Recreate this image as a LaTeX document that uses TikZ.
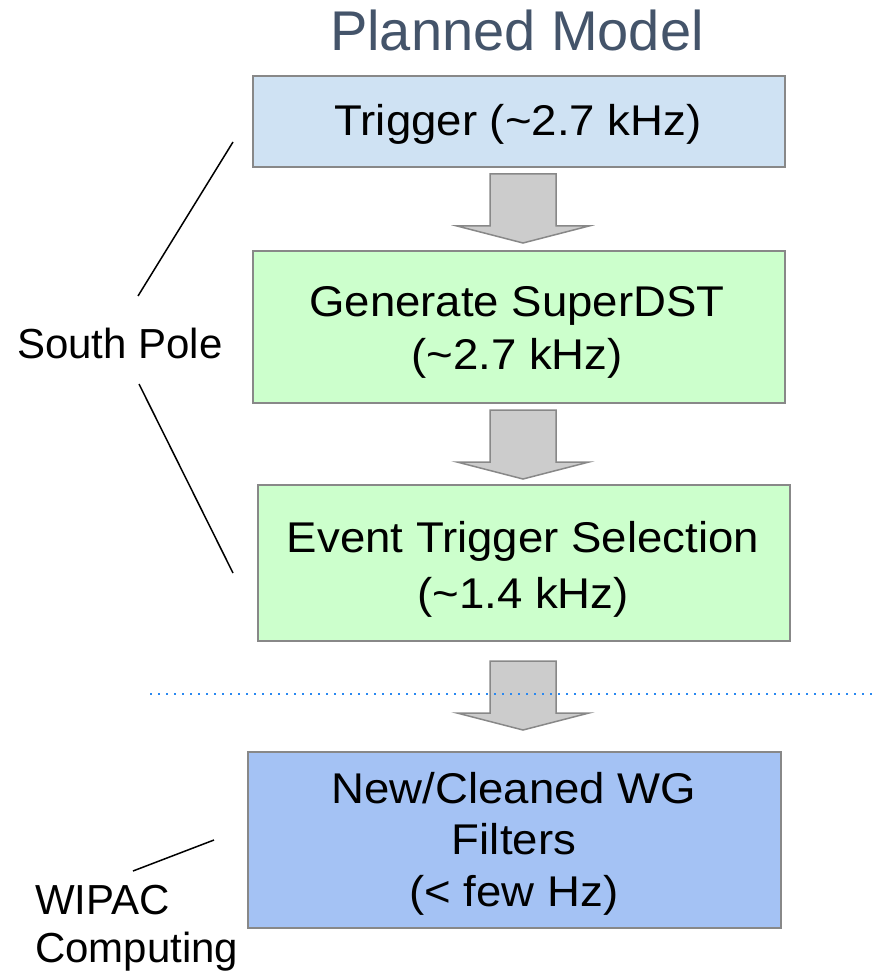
\documentclass[tikz,border=0pt]{standalone}
\usepackage{fontspec}
\setmainfont{Liberation Sans}
\newfontfamily\boxfont{Liberation Sans}[FakeStretch=1.06]
\definecolor{trigblue}{HTML}{CFE2F3}
\definecolor{lgreen}{HTML}{CCFFCC}
\definecolor{wgblue}{HTML}{A4C2F4}
\definecolor{bordergray}{HTML}{888888}
\definecolor{arrowgray}{HTML}{CCCCCC}
\definecolor{titlecol}{HTML}{44546A}
\definecolor{dotblue}{HTML}{2A88F0}
\tikzset{
  box/.style={draw=bordergray, line width=2pt, rectangle, inner sep=0pt, anchor=north west},
  boxtext/.style={anchor=base, inner sep=0pt, font=\boxfont\fontsize{43}{52}\selectfont, text=black},
  labeltext/.style={anchor=base west, inner sep=0pt, font=\fontsize{42}{52}\selectfont, text=black},
  leader/.style={draw=black, line width=1.5pt},
  blockarrowstyle/.style={draw=bordergray, fill=arrowgray, line width=1.5pt, line join=miter},
  dotline/.style={draw=dotblue, line width=2.4pt, dash pattern=on 2.4pt off 5.6pt},
  blockarr/.pic={\path[blockarrowstyle] (-33,0) -- (33,0) -- (33,52) -- (66,52) -- (0,69) -- (-66,52) -- (-33,52) -- cycle;}
}
\begin{document}
\begin{tikzpicture}[x=1pt,y=-1pt]
\useasboundingbox (0,0) rectangle (876,973);

% title
\node[anchor=base, inner sep=0pt, font=\fontsize{56}{60}\selectfont, text=titlecol] (title) at (517,51) {Planned Model};

% boxes
\node[box, fill=trigblue, minimum width=532pt, minimum height=91pt] (trig) at (252,75) {};
\node[box, fill=lgreen, minimum width=532pt, minimum height=152pt] (sdst) at (252,250) {};
\node[box, fill=lgreen, minimum width=532pt, minimum height=156pt] (sel) at (257,484) {};
\node[box, fill=wgblue, minimum width=533pt, minimum height=176pt] (wg) at (247,751) {};

% box texts
\node[boxtext] (t1) at (518,136) {Trigger (\textasciitilde2.7 kHz)};
\node[boxtext] (t2a) at (517,316) {Generate SuperDST};
\node[boxtext] (t2b) at (517,369) {(\textasciitilde2.7 kHz)};
\node[boxtext] (t3a) at (523,552) {Event Trigger Selection};
\node[boxtext] (t3b) at (523,608) {(\textasciitilde1.4 kHz)};
\node[boxtext] (t4a) at (514,803) {New/Cleaned WG};
\node[boxtext] (t4b) at (514,854) {Filters};
\node[boxtext] (t4c) at (514,906) {(< few Hz)};

% block arrows
\pic at (523,174) {blockarr};
\pic at (523,410) {blockarr};
\pic at (523,661) {blockarr};

% dotted separator
\coordinate (dl) at (150,694);
\coordinate (dr) at (876,694);
\draw[dotline] (dl) -- (dr);

% side labels
\node[labeltext] (sp) at (17,358) {South Pole};
\node[labeltext] (wipac1) at (35,914) {WIPAC};
\node[labeltext] (wipac2) at (35,962) {Computing};

% leader lines
\coordinate (spa1) at (138,296);
\coordinate (spa2) at (233,142);
\coordinate (spb1) at (139,384);
\coordinate (spb2) at (233,573);
\coordinate (wa1) at (133,871);
\coordinate (wa2) at (214,840);
\draw[leader] (spa1) -- (spa2);
\draw[leader] (spb1) -- (spb2);
\draw[leader] (wa1) -- (wa2);
\end{tikzpicture}
\end{document}
